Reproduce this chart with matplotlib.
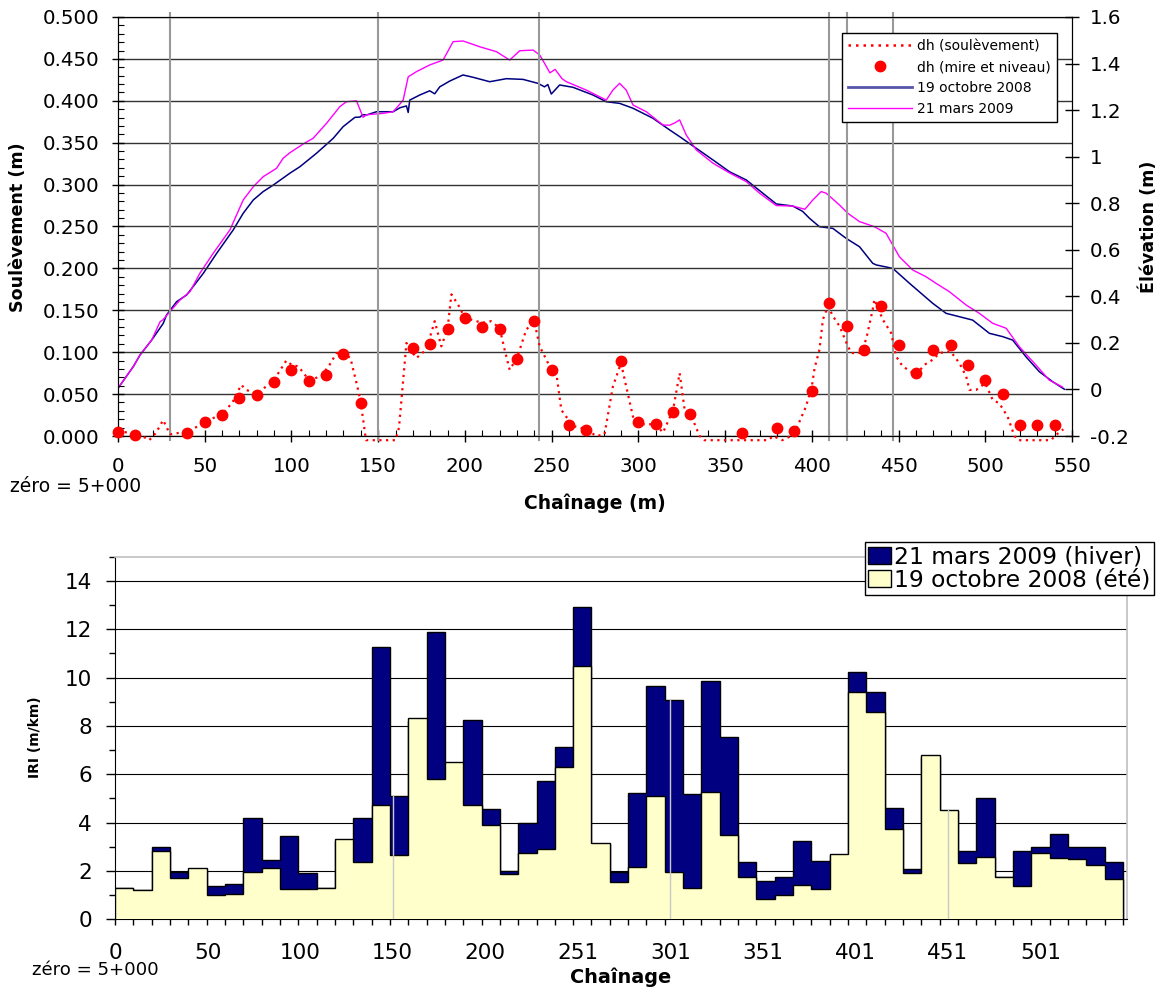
import numpy as np
import matplotlib
matplotlib.use('Agg')
from matplotlib import pyplot as plt
from matplotlib.ticker import MultipleLocator, FixedLocator, FuncFormatter
from matplotlib.lines import Line2D
from matplotlib.patches import Patch

# ---- top chart : elevation profiles (right axis, m) ----
oct_x = [0, 8.8, 12.7, 19.4, 26.1, 28, 33.8, 39.6, 49.2, 56.9, 66.4, 72.2, 78, 83.7, 89.5,
         99.1, 104.9, 114.5, 124.1, 129.8, 136.6, 139.5, 141, 143.3, 149, 155, 158.6, 162.5,
         166.3, 167.3, 168.2, 174, 179.7, 182.6, 185.5, 191.3, 198.9, 204.7, 214.3, 223.9,
         233.5, 242.1, 245.9, 247.8, 249.8, 254.6, 262.3, 273.8, 281.5, 289.2, 296.9, 308.4,
         318, 323.8, 333.4, 343, 352.6, 362.2, 369.9, 379.5, 389, 394.7, 398.7, 404.4, 412.1,
         419.8, 427.5, 435.1, 437.1, 446.7, 456.3, 469.7, 477.4, 492.7, 502.4, 510, 515.8,
         523.5, 531.2, 538.9, 545.6]
oct_z = [0.005, 0.098, 0.148, 0.212, 0.284, 0.32, 0.377, 0.406, 0.499, 0.585, 0.685, 0.757,
         0.814, 0.85, 0.878, 0.929, 0.957, 1.015, 1.079, 1.129, 1.169, 1.17, 1.18, 1.179, 1.193,
         1.193, 1.193, 1.21, 1.218, 1.19, 1.243, 1.265, 1.283, 1.27, 1.30, 1.325, 1.351, 1.341,
         1.322, 1.335, 1.332, 1.315, 1.30, 1.31, 1.269, 1.308, 1.298, 1.265, 1.236, 1.229,
         1.208, 1.165, 1.115, 1.086, 1.036, 0.986, 0.935, 0.90, 0.854, 0.797, 0.788, 0.765,
         0.735, 0.699, 0.692, 0.649, 0.613, 0.542, 0.535, 0.52, 0.456, 0.37, 0.327, 0.298,
         0.241, 0.227, 0.212, 0.14, 0.076, 0.033, 0.001]

mar_x = [0, 8.8, 12.7, 19.4, 24.2, 26, 35.7, 41.5, 47.2, 54.9, 64.5, 72.2, 78, 83.7, 91.4,
         95.2, 99.1, 106.7, 112.5, 120.2, 127.9, 131.7, 137.5, 141.3, 143.3, 152.8, 158.6,
         162.5, 164.4, 167.3, 172, 179.7, 187.4, 193.2, 198.9, 208.6, 218.2, 225.8, 231.6,
         239.3, 243.1, 246, 249, 252, 256, 258.5, 270, 281.5, 285.3, 289.2, 293, 296.9, 304.6,
         314.2, 318, 321, 323.8, 327.6, 333.4, 343, 352.6, 362.2, 369.9, 379.5, 389, 396,
         400.6, 405.4, 408.3, 416, 420.7, 427.5, 436.1, 442.8, 450.5, 458.2, 465.9, 471.6,
         479.3, 488.9, 496.6, 504.3, 512, 519.7, 529.2, 536.9, 544.6]
mar_z = [0.005, 0.098, 0.148, 0.212, 0.29, 0.30, 0.384, 0.42, 0.499, 0.585, 0.685, 0.814,
         0.871, 0.914, 0.95, 0.993, 1.017, 1.054, 1.079, 1.143, 1.215, 1.236, 1.24, 1.169,
         1.18, 1.186, 1.193, 1.226, 1.243, 1.343, 1.365, 1.394, 1.415, 1.494, 1.497, 1.472,
         1.451, 1.415, 1.455, 1.458, 1.437, 1.40, 1.36, 1.375, 1.335, 1.322, 1.286, 1.243,
         1.286, 1.315, 1.286, 1.222, 1.193, 1.136, 1.135, 1.145, 1.158, 1.093, 1.029, 0.972,
         0.93, 0.893, 0.843, 0.79, 0.788, 0.774, 0.814, 0.85, 0.843, 0.792, 0.757, 0.721,
         0.699, 0.671, 0.57, 0.513, 0.484, 0.456, 0.42, 0.363, 0.327, 0.284, 0.263, 0.183,
         0.105, 0.04, 0.01]

# dh (soulevement), left axis (m)
dh_x = [0, 8, 14, 18, 22, 26, 30, 36, 40, 50, 60, 66, 71, 74, 80, 90, 97, 100, 104, 110,
        117, 122, 126, 130, 134, 138, 140, 143, 160, 162, 166.3, 168, 172, 177.7, 182.6,
        186.4, 190, 192.2, 196, 200, 210, 215, 220, 222.9, 225.8, 230, 235.4, 240, 243.1,
        248.9, 252.7, 255.6, 262.3, 270, 275.7, 280.5, 285.3, 290, 293, 296.9, 302.6, 310,
        314.2, 320, 323.8, 326.7, 331.5, 335.3, 338, 375, 377.6, 383, 388, 391.8, 396.6,
        400, 401.6, 404.4, 406.4, 409.3, 412.2, 416, 420, 422.7, 427.5, 431.3, 435.1, 436.1,
        440.9, 445.7, 448.6, 452.4, 460.1, 464.9, 469.7, 473.6, 480, 485.1, 489, 490.9,
        494.7, 500, 504.3, 508.1, 512.9, 516.8, 519, 538, 540, 545]
dh_v = [0.005, 0.004, 0.0, -0.005, 0.004, 0.019, 0.002, 0.004, 0.004, 0.017, 0.026, 0.04,
        0.061, 0.055, 0.05, 0.067, 0.09, 0.085, 0.083, 0.067, 0.071, 0.085, 0.099, 0.099,
        0.093, 0.059, 0.039, -0.005, -0.005, 0.01, 0.111, 0.105, 0.093, 0.103, 0.137, 0.107,
        0.128, 0.169, 0.157, 0.141, 0.135, 0.137, 0.129, 0.103, 0.079, 0.093, 0.127, 0.137,
        0.107, 0.083, 0.075, 0.031, 0.012, 0.008, 0.0, 0.002, 0.059, 0.087, 0.059, 0.023,
        0.014, 0.014, 0.004, 0.031, 0.075, 0.031, 0.019, 0.0, -0.005, -0.005, 0.0, -0.005,
        0.0, 0.012, 0.035, 0.059, 0.081, 0.103, 0.139, 0.155, 0.143, 0.131, 0.111, 0.099,
        0.099, 0.115, 0.151, 0.163, 0.139, 0.123, 0.095, 0.083, 0.073, 0.085, 0.091, 0.099,
        0.101, 0.087, 0.071, 0.055, 0.055, 0.063, 0.043, 0.039, 0.023, 0.0, -0.005, -0.005,
        0.0, 0.008]

# dh (mire et niveau)
mire_x = [0, 10, 40, 50, 60, 70, 80, 90, 100, 110, 120, 130, 140, 170, 180, 190, 200, 210,
          220, 230, 240, 250, 260, 270, 290, 300, 310, 320, 330, 360, 380, 390, 400, 410,
          420, 430, 440, 450, 460, 470, 480, 490, 500, 510, 520, 530, 540]
mire_v = [0.0048, 0.0016, 0.004, 0.0167, 0.025, 0.045, 0.049, 0.065, 0.079, 0.066, 0.073,
          0.098, 0.039, 0.105, 0.110, 0.128, 0.141, 0.130, 0.128, 0.092, 0.137, 0.079, 0.013,
          0.0076, 0.090, 0.0167, 0.014, 0.029, 0.026, 0.0036, 0.010, 0.006, 0.054, 0.159,
          0.131, 0.103, 0.155, 0.109, 0.075, 0.103, 0.108, 0.085, 0.067, 0.050, 0.0135,
          0.0135, 0.0127]

vlines_x = [30, 150, 243, 410, 420, 447]

# ---- bottom chart : IRI (m/km) per 10 m ----
iri_hiver = [1.28, 1.21, 3.0, 1.94, 2.05, 1.38, 1.45, 4.18, 2.46, 3.46, 1.9, 1.31, 3.25, 4.18,
             11.26, 5.08, 8.2, 11.9, 6.4, 8.25, 4.55, 2.01, 3.97, 5.74, 7.14, 12.9, 3.1, 1.97,
             5.24, 9.66, 9.06, 5.17, 9.85, 7.53, 2.36, 1.59, 1.77, 3.24, 2.43, 2.68, 10.25,
             9.39, 4.62, 2.08, 6.7, 4.5, 2.83, 5.03, 1.75, 2.84, 2.98, 3.53, 3.0, 2.98, 2.39]
iri_ete = [1.28, 1.21, 2.83, 1.72, 2.11, 1.01, 1.05, 1.94, 2.14, 1.27, 1.24, 1.31, 3.31, 2.39,
           4.72, 2.66, 8.34, 5.79, 6.5, 4.73, 3.9, 1.86, 2.76, 2.9, 6.28, 10.48, 3.14, 1.56,
           2.15, 5.08, 1.97, 1.3, 5.26, 3.49, 1.74, 0.83, 0.99, 1.42, 1.24, 2.7, 9.42, 8.59,
           3.72, 1.9, 6.79, 4.52, 2.34, 2.59, 1.77, 1.38, 2.73, 2.55, 2.5, 2.25, 1.66]
iri_labels = ['0', '50', '100', '150', '200', '251', '301', '351', '401', '451', '501']

W, H = 1165, 990
fig = plt.figure(figsize=(W / 100, H / 100), dpi=100)

# ================= top =================
ax = fig.add_axes([118 / W, 1 - 436 / H, (1072 - 118) / W, (436 - 17) / H])
ax2 = ax.twinx()
ax.set_zorder(ax2.get_zorder() + 1)
ax.patch.set_visible(False)

ax.set_xlim(0, 550)
ax.set_ylim(0, 0.5)
ax2.set_ylim(-0.2, 1.6)

ax.yaxis.set_major_locator(MultipleLocator(0.05))
ax.yaxis.set_minor_locator(MultipleLocator(0.01))
ax.yaxis.set_major_formatter(FuncFormatter(lambda v, p: '%.3f' % v))
ax.xaxis.set_major_locator(MultipleLocator(50))
ax.xaxis.set_minor_locator(MultipleLocator(10))
ax2.yaxis.set_major_locator(MultipleLocator(0.2))
ax2.yaxis.set_major_formatter(FuncFormatter(lambda v, p: '%g' % round(v, 1)))

ax.tick_params(axis='y', which='major', direction='inout', length=9, width=1, pad=8.5,
               labelsize=14.3)
ax.tick_params(axis='y', which='minor', direction='in', length=4, width=0.8)
ax.tick_params(axis='x', which='major', direction='inout', length=9, width=1, pad=10.5,
               labelsize=14.3)
ax.tick_params(axis='x', which='minor', direction='in', length=4, width=0.8)
ax2.tick_params(axis='y', direction='inout', length=9.5, width=1, pad=8, labelsize=14.3)

ax.yaxis.grid(True, color='#333333', lw=1.0)
ax.set_axisbelow(True)
for v in vlines_x:
    ax.axvline(v, ymin=-0.01, ymax=1.01, color='#999999', lw=1.5, clip_on=False, zorder=1)

ax2.plot(oct_x, oct_z, color='#000080', lw=1.1)
ax2.plot(mar_x, mar_z, color='#FF00FF', lw=1.0)
ax.plot(dh_x, dh_v, color='red', ls=(0, (1, 2)), lw=1.6, clip_on=False, zorder=3)
ax.plot(mire_x, mire_v, 'o', color='red', ms=7.5, zorder=4, clip_on=False)

for s in ax.spines.values():
    s.set_color('black')

handles = [Line2D([], [], color='red', ls=(0, (1, 2)), lw=1.8),
           Line2D([], [], color='red', marker='o', ls='none', ms=7.5),
           Line2D([], [], color='#5555aa', lw=2.0),
           Line2D([], [], color='#FF00FF', lw=1.0)]
labels = ['dh (soulèvement)', 'dh (mire et niveau)', '19 octobre 2008', '21 mars 2009']
leg = ax.legend(handles, labels, loc='upper right', bbox_to_anchor=(1057 / W, 1 - 33 / H),
                bbox_transform=fig.transFigure, fontsize=10, fancybox=False, framealpha=1,
                edgecolor='black', handlelength=4.6, handletextpad=0.35, borderpad=0.45,
                labelspacing=0.5, borderaxespad=0)
leg.get_frame().set_linewidth(1.0)

fig.text(18 / W, 1 - 227 / H, 'Soulèvement (m)', rotation=90, ha='center', va='center',
         fontsize=12.6, fontweight='bold')
fig.text(1149 / W, 1 - 227 / H, 'Élévation (m)', rotation=90, ha='center', va='center',
         fontsize=12.6, fontweight='bold')
fig.text(595 / W, 1 - 503 / H, 'Chaînage (m)', ha='center', va='center', fontsize=13.5,
         fontweight='bold')
fig.text(10 / W, 1 - 486 / H, 'zéro = 5+000', ha='left', va='center', fontsize=13.5)

# ================= bottom =================
bx = fig.add_axes([115 / W, 1 - 919.3 / H, 1012 / W, (919.3 - 556.7) / H])
edges = np.arange(len(iri_hiver) + 1) * 10
bx.stairs(iri_hiver, edges, fill=True, facecolor='#000080', edgecolor='black', lw=1.0,
          zorder=2)
bx.stairs(iri_ete, edges, fill=True, facecolor='#FFFFCC', edgecolor='black', lw=1.0,
          zorder=3)

lab_pos = np.arange(len(iri_labels)) * 50.5
for i in [15, 30, 45]:
    bx.plot([lab_pos[i // 5]] * 2, [0, max(iri_hiver[i], iri_ete[i])], color='#c8c8c8',
            lw=1.0, zorder=4)

bx.set_xlim(0, 552.2)
bx.set_ylim(0, 15)
bx.yaxis.set_major_locator(FixedLocator(np.arange(0, 15, 2)))
bx.yaxis.set_minor_locator(MultipleLocator(1))
bx.set_xticks(lab_pos)
bx.set_xticklabels(iri_labels)
bx.xaxis.set_minor_locator(FixedLocator(edges))
bx.xaxis.remove_overlapping_locs = False
bx.tick_params(axis='x', which='major', length=0, pad=17, labelsize=15.5)
bx.tick_params(axis='x', which='minor', direction='out', length=4.5, width=1)
bx.tick_params(axis='y', which='major', direction='out', length=6.5, width=1, pad=10,
               labelsize=15.5)
bx.tick_params(axis='y', which='minor', direction='out', length=4.5, width=1)
bx.yaxis.grid(True, color='black', lw=0.8)
bx.set_axisbelow(True)
for side in ['top', 'right']:
    bx.spines[side].set_color('#c0c0c0')
    bx.spines[side].set_linewidth(1.2)

bh = [Patch(facecolor='#000080', edgecolor='black', lw=1.0),
      Patch(facecolor='#FFFFCC', edgecolor='black', lw=1.0)]
bleg = bx.legend(bh, ['21 mars 2009 (hiver)', '19 octobre 2008 (été)'], loc='upper right',
                 bbox_to_anchor=(1154 / W, 1 - 541.7 / H), bbox_transform=fig.transFigure,
                 fontsize=16.8, fancybox=False, framealpha=1, edgecolor='black',
                 handlelength=0.95, handleheight=0.75, handletextpad=0.15, borderpad=0.15,
                 labelspacing=0.0, borderaxespad=0)
bleg.get_frame().set_linewidth(1.0)
bleg.set_zorder(10)

fig.text(35 / W, 1 - 737 / H, 'IRI (m/km)', rotation=90, ha='center', va='center',
         fontsize=10, fontweight='bold')
fig.text(621 / W, 1 - 977 / H, 'Chaînage', ha='center', va='center', fontsize=13.9,
         fontweight='bold')
fig.text(32 / W, 1 - 970 / H, 'zéro = 5+000', ha='left', va='center', fontsize=13.1)

fig.savefig('out.png', dpi=100)
